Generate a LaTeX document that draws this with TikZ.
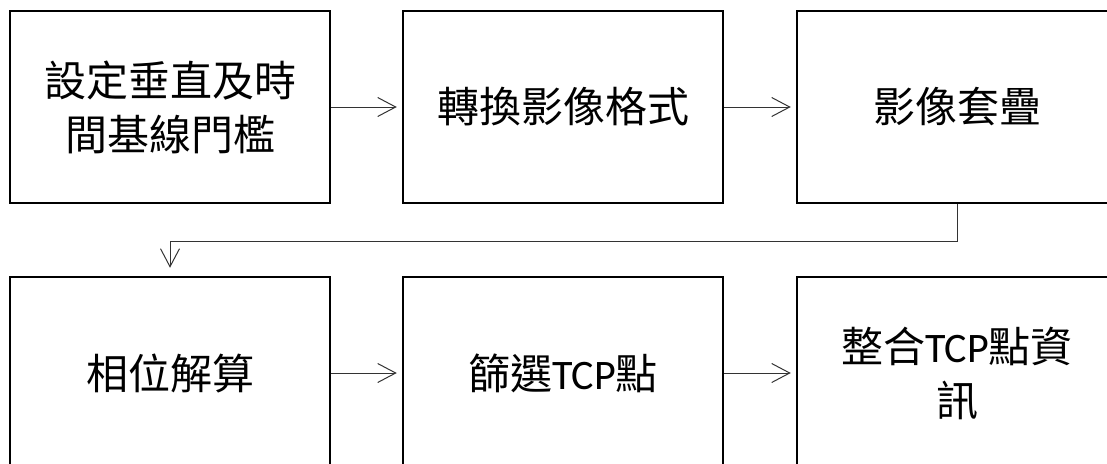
\documentclass[tikz,border=0pt]{standalone}
\usepackage{fontspec}
\setmainfont{Noto Sans CJK TC}
\newfontfamily\lat{Carlito}
\usetikzlibrary{arrows.meta}
\tikzset{
  box/.style={draw=black, line width=2.5pt, minimum width=320pt, minimum height=192pt,
    inner sep=0pt, align=center, font=\fontsize{42}{54}\selectfont},
  conn/.style={draw=black!80, line width=1pt, -{Straight Barb[length=18pt,width=19pt,line width=1pt]}},
}
\begin{document}
\begin{tikzpicture}[x=1pt,y=-1pt]
\useasboundingbox (0,0) rectangle (1107,463);
\clip (0,0) rectangle (1107,463);
\node[box] (b1) at (170,107) {設定垂直及時\\間基線門檻};
\node[box] (b2) at (563,107) {轉換影像格式};
\node[box] (b3) at (957,107) {影像套疊};
\node[box] (b4) at (170,373) {相位解算};
\node[box] (b5) at (563,373) {篩選{\lat TCP}點};
\node[box] (b6) at (957,373) {整合{\lat TCP}點資\\訊};
\draw[conn, shorten >=5pt] (b1.east) -- (b2.west);
\draw[conn, shorten >=5pt] (b2.east) -- (b3.west);
\draw[conn, shorten >=5pt] (b4.east) -- (b5.west);
\draw[conn, shorten >=8pt] (b3.south) -- ++(0,37) -| (b4.north);
\draw[conn, shorten >=5pt] (b5.east) -- (b6.west);
\end{tikzpicture}
\end{document}
